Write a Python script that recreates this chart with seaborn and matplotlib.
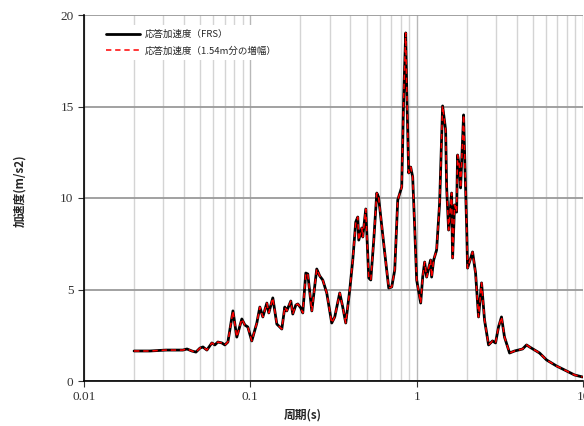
import numpy as np
import pandas as pd
import matplotlib
matplotlib.use("Agg")
import matplotlib.pyplot as plt
import matplotlib.ticker as mticker
import seaborn as sns

# period (s) / response acceleration (m/s2)
period = [0.020, 0.0249, 0.0311, 0.0393, 0.0416, 0.0445, 0.0471, 0.0498, 0.0519, 0.0548,
          0.0587, 0.0612, 0.0638, 0.0674, 0.0703, 0.0733, 0.0786, 0.0829, 0.0889, 0.0927,
          0.0966, 0.102, 0.1094, 0.1141, 0.1189, 0.1257, 0.1291, 0.1365, 0.1443, 0.1504,
          0.1546, 0.1611, 0.1656, 0.1751, 0.180, 0.1877, 0.193, 0.2011, 0.2067, 0.2155,
          0.2215, 0.2342, 0.2508, 0.2614, 0.2725, 0.288, 0.3086, 0.3217, 0.3447, 0.3594,
          0.3747, 0.396, 0.4128, 0.4303, 0.4424, 0.4486, 0.4677, 0.4742, 0.4943, 0.5153,
          0.5297, 0.5522, 0.5757, 0.590, 0.643, 0.6793, 0.7082, 0.7381, 0.7694, 0.8128,
          0.8356, 0.859, 0.871, 0.8954, 0.9205, 0.9463, 0.9728, 1.000, 1.057, 1.087,
          1.117, 1.148, 1.180, 1.213, 1.230, 1.265, 1.318, 1.374, 1.432, 1.493,
          1.514, 1.556, 1.622, 1.644, 1.691, 1.738, 1.762, 1.812, 1.837, 1.915,
          1.94, 2.00, 2.023, 2.168, 2.26, 2.355, 2.455, 2.559, 2.705, 2.859,
          2.979, 3.105, 3.236, 3.373, 3.619, 3.878, 4.332, 4.577, 4.772, 5.479,
          6.039, 6.934, 7.96, 8.89, 9.93]
accel_frs = [1.64, 1.64, 1.69, 1.69, 1.75, 1.64, 1.58, 1.80, 1.86, 1.69,
             2.08, 1.97, 2.13, 2.08, 1.97, 2.13, 3.83, 2.40, 3.39, 3.06,
             2.95, 2.19, 3.17, 4.04, 3.50, 4.26, 3.72, 4.54, 3.11, 2.95,
             2.84, 4.04, 3.83, 4.37, 3.66, 4.15, 4.21, 3.99, 3.72, 5.90,
             5.85, 3.83, 6.12, 5.74, 5.52, 4.81, 3.17, 3.50, 4.81, 4.04,
             3.17, 4.97, 6.61, 8.69, 8.96, 7.70, 8.36, 7.87, 9.40, 5.63,
             5.52, 7.70, 10.27, 10.05, 6.99, 5.08, 5.14, 6.07, 9.89, 10.60,
             15.52, 19.02, 16.07, 11.37, 11.69, 11.15, 8.42, 5.52, 4.26, 5.68,
             6.50, 5.68, 6.17, 6.61, 5.68, 6.61, 7.16, 9.73, 15.03, 13.72,
             10.60, 8.25, 10.27, 6.72, 9.62, 9.23, 12.35, 11.64, 10.55, 14.54,
             12.6, 8.25, 6.17, 7.05, 5.90, 3.50, 5.36, 3.33, 1.97, 2.19,
             2.08, 2.95, 3.50, 2.40, 1.53, 1.64, 1.75, 1.97, 1.86, 1.53,
             1.15, 0.82, 0.55, 0.33, 0.22]
# the amplified curve sits on top of the FRS curve
accel_amp = list(accel_frs)

label_frs = "応答加速度（FRS）"
label_amp = "応答加速度（1.54m分の増幅）"
x_ticks = [0.01, 0.1, 1, 10]
x_ticklabels = ["0.01", "0.1", "1", "10"]
y_ticks = [0, 5, 10, 15, 20]

df = pd.DataFrame({"period": period, "frs": accel_frs, "amp": accel_amp})

sns.set_style("white")
plt.rcParams['font.family'] = ['Liberation Serif', 'Noto Sans CJK JP']

fig = plt.figure(figsize=(5.84, 4.26), dpi=100)
ax = fig.add_axes([84 / 584, 1 - 381 / 426, 499 / 584, 366 / 426])

ax.set_xscale("log")
ax.set_xlim(0.01, 10)
ax.set_ylim(0, 20)

# grid
ax.xaxis.set_minor_locator(mticker.LogLocator(base=10, subs=np.arange(2, 10)))
ax.grid(which="minor", axis="x", color="#d4d4d4", lw=1.0)
ax.grid(which="major", axis="x", color="#b8b8b8", lw=1.0)
ax.grid(which="major", axis="y", color="#9a9a9a", lw=1.3)
ax.set_axisbelow(True)

sns.lineplot(data=df, x="period", y="frs", ax=ax, color="black", lw=2.0,
             label=label_frs, sort=False, estimator=None)
sns.lineplot(data=df, x="period", y="amp", ax=ax, color="red", lw=1.1,
             label=label_amp, sort=False, estimator=None)
ax.lines[-1].set_dashes([3.5, 2.5])

ax.set_xticks(x_ticks)
ax.set_xticklabels(x_ticklabels)
ax.set_yticks(y_ticks)
ax.tick_params(axis="both", which="major", labelsize=9.5, colors="#333333",
               length=4, direction="out", left=True, bottom=True)
ax.tick_params(axis="x", which="minor", length=0)
ax.tick_params(axis="x", pad=3)

for s in ["top", "right"]:
    ax.spines[s].set_visible(False)
for s in ["left", "bottom"]:
    ax.spines[s].set_color("black")
    ax.spines[s].set_linewidth(1.2)

ax.set_xlabel("周期(s)", fontsize=8.5, fontweight="bold", family=["Noto Sans CJK JP"])
ax.set_ylabel("加速度(m/s2)", fontsize=8.5, fontweight="bold", family=["Noto Sans CJK JP"])
ax.xaxis.set_label_coords(0.439, -0.076)
ax.yaxis.set_label_coords(-0.115, 0.519)

leg = ax.legend(loc="upper left", bbox_to_anchor=(0.026, 0.985), frameon=True,
                fancybox=False, framealpha=1, edgecolor="none", facecolor="white",
                prop={"family": ["Noto Sans CJK JP"], "size": 6.8},
                handlelength=3.6, handletextpad=0.5, labelspacing=0.75,
                borderpad=0.5)

fig.savefig("out.png", dpi=100)
